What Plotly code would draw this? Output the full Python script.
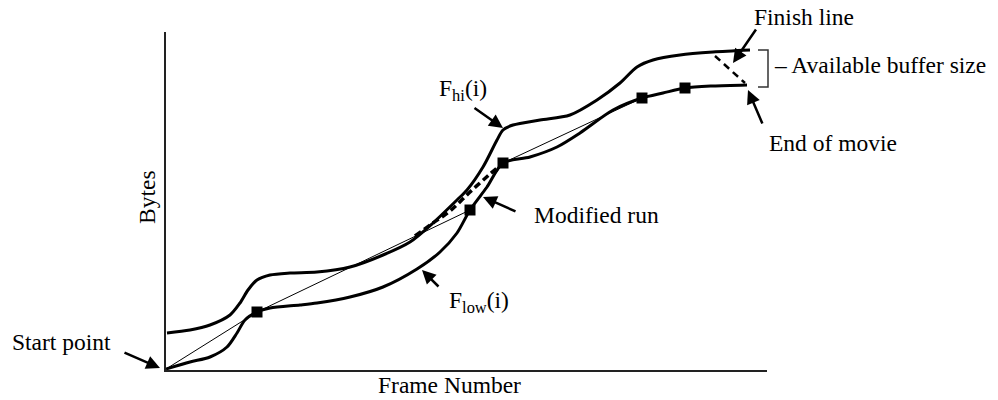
import plotly.graph_objects as go

# curves (frame number, bytes)
hi_x = [1, 24, 44, 64, 74, 82, 91, 104, 124, 151, 184, 217, 244, 267, 291, 301, 317, 331, 337, 347, 374, 404, 431, 454, 471, 487, 514, 547, 584]
hi_y = [37, 40, 45, 55, 67, 80, 90, 95, 97, 98, 103, 115, 128, 147, 170, 180, 203, 230, 240, 245, 250, 255, 270, 287, 303, 310, 315, 318, 320]

low_x = [0, 24, 44, 61, 71, 79, 91, 104, 134, 151, 184, 217, 251, 274, 291, 304, 321, 337, 364, 391, 414, 447, 476, 497, 519, 547, 581]
low_y = [1, 8, 13, 23, 37, 50, 58, 62, 65, 67, 73, 83, 101, 118, 137, 160, 183, 207, 213, 223, 237, 260, 272, 277, 282, 284, 285]

run_x = [0, 91, 304, 337, 476, 519]
run_y = [1, 58, 160, 207, 272, 282]

mod_x = [249, 267, 284, 304, 324, 337]
mod_y = [134, 147, 159, 178, 196, 207]

finish_x = [549, 579]
finish_y = [314, 287]

sq_x = [91, 304, 337, 476, 519]
sq_y = [58, 160, 207, 272, 282]

X_MAX, Y_MAX = 601, 338
FONT = dict(family="Liberation Serif, Times New Roman, serif", size=23.5, color="black")


def px(v):
    return v / X_MAX


def py(v):
    return v / Y_MAX


fig = go.Figure()
fig.add_trace(go.Scatter(x=hi_x, y=hi_y, mode="lines", line=dict(color="black", width=3, shape="spline", smoothing=0.8)))
fig.add_trace(go.Scatter(x=low_x, y=low_y, mode="lines", line=dict(color="black", width=3, shape="spline", smoothing=0.8)))
fig.add_trace(go.Scatter(x=run_x, y=run_y, mode="lines", line=dict(color="black", width=1)))
fig.add_trace(go.Scatter(x=mod_x, y=mod_y, mode="lines", line=dict(color="black", width=3.5, dash="7px,4px", shape="spline")))
fig.add_trace(go.Scatter(x=finish_x, y=finish_y, mode="lines", line=dict(color="black", width=2.5, dash="7px,5px")))
fig.add_trace(go.Scatter(x=sq_x, y=sq_y, mode="markers", marker=dict(symbol="square", size=11, color="black")))

# bracket for the buffer size (paper coords so it is not clipped)
bx, bt, bb = px(602), py(320), py(283)
fig.add_shape(type="path", xref="paper", yref="paper",
              path=f"M {bx - px(10)},{bt} L {bx},{bt} L {bx},{bb} L {bx - px(10)},{bb}",
              line=dict(color="#333333", width=1.5))

# arrows: (head x, head y, tail x, tail y), one axis unit is one pixel
arrows = [(-6, 2, -43, 18), (337, 242, 307, 263), (317, 173, 351, 158),
          (256, 100, 274, 82), (567, 307, 591, 342), (582, 280, 597, 245)]
for hx, hy, tx, ty in arrows:
    fig.add_annotation(x=px(hx), y=py(hy), xref="paper", yref="paper", ax=tx - hx, ay=hy - ty,
                       text="", showarrow=True, arrowhead=2, arrowsize=1.1, arrowwidth=2.5, arrowcolor="black")

labels = [("Start point", -156, 28),
          ("F<sub>hi</sub>(i)", 271, 280),
          ("Modified run", 366, 155),
          ("F<sub>low</sub>(i)", 281, 68),
          ("Finish line", 586, 353),
          ("– Available buffer size", 606, 305),
          ("End of movie", 601, 227)]
for txt, lx, ly in labels:
    fig.add_annotation(x=px(lx), y=py(ly), xref="paper", yref="paper", text=txt, showarrow=False,
                       xanchor="left", yanchor="middle", font=FONT)

fig.add_annotation(x=px(283.5), y=py(-15), xref="paper", yref="paper", text="Frame Number", showarrow=False,
                   xanchor="center", yanchor="middle", font=FONT)
fig.add_annotation(x=px(-19), y=py(173), xref="paper", yref="paper", text="Bytes", showarrow=False,
                   textangle=-90, xanchor="center", yanchor="middle", font=FONT)

fig.update_xaxes(range=[0, X_MAX], showline=True, linecolor="#222222", linewidth=1.5,
                 showgrid=False, zeroline=False, showticklabels=False, ticks="")
fig.update_yaxes(range=[0, Y_MAX], showline=True, linecolor="#222222", linewidth=1.5,
                 showgrid=False, zeroline=False, showticklabels=False, ticks="")
fig.update_layout(width=998, height=400, showlegend=False, plot_bgcolor="white", paper_bgcolor="white",
                  margin=dict(l=158, r=239, t=24, b=38), font=FONT)
fig.write_html("out.html")
